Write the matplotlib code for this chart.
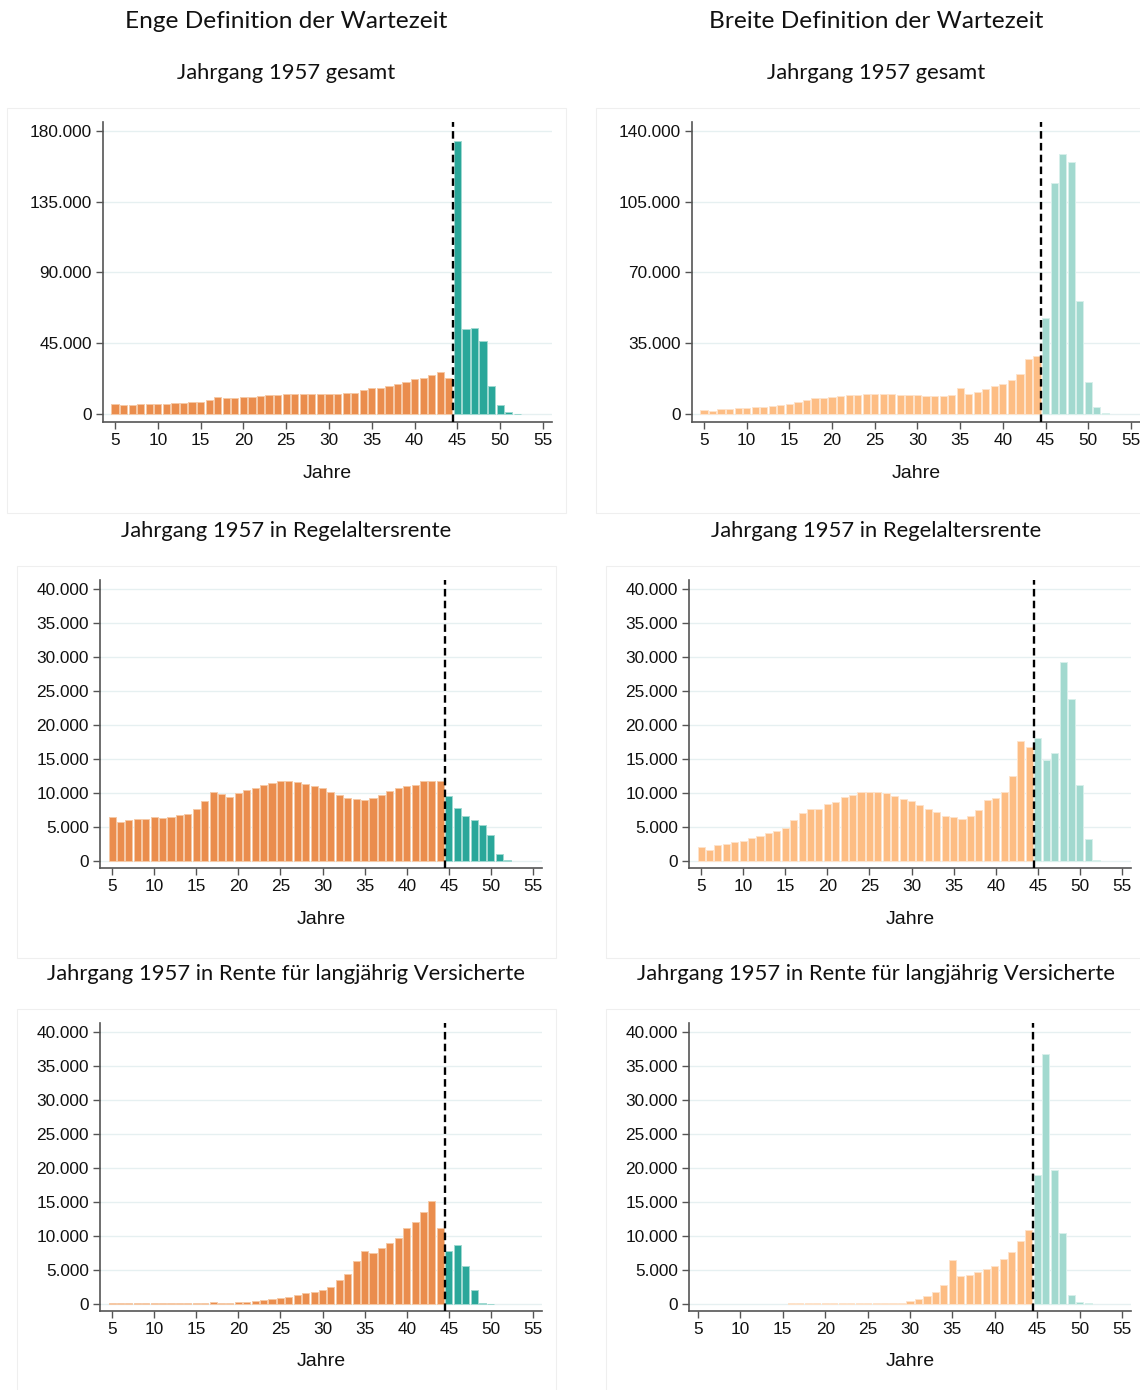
import numpy as np
import matplotlib
matplotlib.use("Agg")
import matplotlib.pyplot as plt
from matplotlib.patches import Rectangle
from matplotlib.ticker import FuncFormatter

W, H = 1140, 1390
DPI = 100

# ---------------- data ----------------
col_titles = ["Enge Definition der Wartezeit", "Breite Definition der Wartezeit"]
row_titles = ["Jahrgang 1957 gesamt", "Jahrgang 1957 in Regelaltersrente",
              "Jahrgang 1957 in Rente für langjährig Versicherte"]
x_label = "Jahre"
threshold = 44.5
x_ticks = [5, 10, 15, 20, 25, 30, 35, 40, 45, 50, 55]

# Panel 1: enge Definition, gesamt
p1_years_below = np.arange(5, 45)
p1_below = [6400, 5700, 6000, 6200, 6200, 6400, 6200, 6800, 7200, 7400,
            7900, 9100, 10600, 10400, 10000, 10600, 11000, 11500, 11900, 12300,
            12700, 13000, 13000, 13000, 13000, 12700, 12700, 13200, 13600, 15500,
            16800, 16800, 17800, 19100, 20400, 22100, 23100, 25000, 26700, 22700]
p1_years_above = np.arange(45, 53)
p1_above = [173700, 54100, 54600, 46300, 17600, 5500, 1100, 200]
p1_yticks = [0, 45000, 90000, 135000, 180000]

# Panel 2: breite Definition, gesamt
p2_years_below = np.arange(5, 45)
p2_below = [1980, 1490, 2310, 2480, 2970, 3140, 3470, 3630, 4130, 4460,
            4790, 5940, 7100, 7760, 7760, 8420, 8750, 9410, 9580, 10070,
            10070, 10070, 10070, 9580, 9250, 9250, 9080, 8750, 8750, 9410,
            12880, 10070, 10730, 12220, 13870, 14860, 16840, 19980, 27080, 28730]
p2_years_above = np.arange(45, 53)
p2_above = [47700, 114400, 128400, 124800, 56000, 16000, 3600, 300]
p2_yticks = [0, 35000, 70000, 105000, 140000]

# Panel 3: enge Definition, Regelaltersrente
p3_years_below = np.arange(5, 45)
p3_below = [6420, 5730, 6030, 6170, 6220, 6420, 6270, 6470, 6710, 6960,
            7600, 8770, 10090, 9850, 9460, 10050, 10390, 10780, 11220, 11520,
            11810, 11760, 11610, 11370, 11070, 10680, 10140, 9650, 9260, 9160,
            9020, 9260, 9700, 10290, 10730, 10980, 11120, 11710, 11710, 11710]
p3_years_above = np.arange(45, 53)
p3_above = [9560, 7740, 6620, 6030, 5340, 3870, 1030, 150]

# Panel 4: breite Definition, Regelaltersrente
p4_years_below = np.arange(5, 45)
p4_below = [2060, 1620, 2300, 2550, 2790, 2990, 3430, 3680, 4170, 4460,
            4850, 5980, 7010, 7600, 7650, 8380, 8730, 9360, 9710, 10100,
            10100, 10150, 10000, 9610, 9120, 8820, 8290, 7700, 7160, 6620,
            6420, 6180, 6620, 7450, 9020, 9310, 10200, 12550, 17700, 16770]
p4_years_above = np.arange(45, 53)
p4_above = [18090, 14900, 15930, 29220, 23830, 11230, 3280, 150]

# Panel 5: enge Definition, langjährig Versicherte
p5_years_below = np.arange(5, 45)
p5_below = [100, 100, 100, 100, 100, 100, 100, 150, 150, 150,
            200, 200, 250, 150, 200, 250, 300, 440, 540, 740,
            930, 1080, 1370, 1570, 1760, 2110, 2500, 3480, 4410, 6320,
            7790, 7450, 8180, 8970, 9750, 11170, 12050, 13570, 15190, 11120]
p5_years_above = np.arange(45, 51)
p5_above = [7840, 8680, 5540, 2110, 100, 50]

# Panel 6: breite Definition, langjährig Versicherte
p6_years_below = np.arange(16, 45)
p6_below = [150, 150, 150, 150, 150, 150, 150, 150, 150, 150,
            150, 150, 150, 200, 400, 780, 1130, 1720, 2840, 6520,
            4070, 4210, 4700, 5100, 5640, 6570, 7700, 9310, 10930]
p6_years_above = np.arange(45, 52)
p6_above = [19010, 36760, 19650, 10390, 1270, 300, 100]

sub_yticks = [0, 5000, 10000, 15000, 20000, 25000, 30000, 35000, 40000]

# ---------------- style ----------------
dark_orange = "#EA8D4D"
dark_orange_edge = "#F6C9A6"
dark_teal = "#2AA79A"
dark_teal_edge = "#9FD9D1"
light_orange = "#FDBD84"
light_orange_edge = "#FEE3CB"
light_teal = "#A2D9CF"
light_teal_edge = "#D8F0EB"
grid_col = "#E6F0F1"
axis_col = "#555555"

plt.rcParams['font.family'] = ['Liberation Sans', 'DejaVu Sans']
title_font = ['Lato', 'DejaVu Sans']

fig = plt.figure(figsize=(W / DPI, H / DPI), dpi=DPI)
fig.patch.set_facecolor("white")


def rect(l, t, r, b):
    return [l / W, 1 - b / H, (r - l) / W, (b - t) / H]


def de_fmt(v, pos):
    return f"{int(round(v)):,}".replace(",", ".")


panels = [
    dict(box=(103, 122, 552, 422), xlim=(3.6, 56.05), ylim=(-5090, 185700),
         yt=p1_yticks, yb=p1_years_below, vb=p1_below, ya=p1_years_above, va=p1_above,
         dark=True, frame=(7, 108, 566, 513)),
    dict(box=(692, 122, 1140, 422), xlim=(3.6, 56.05), ylim=(-3960, 144450),
         yt=p2_yticks, yb=p2_years_below, vb=p2_below, ya=p2_years_above, va=p2_above,
         dark=False, frame=(596, 108, 1150, 513)),
    dict(box=(100, 580, 542, 868), xlim=(3.57, 56.07), ylim=(-1030, 41320),
         yt=sub_yticks, yb=p3_years_below, vb=p3_below, ya=p3_years_above, va=p3_above,
         dark=True, frame=(17, 566, 556, 958)),
    dict(box=(689, 580, 1131, 868), xlim=(3.57, 56.07), ylim=(-1030, 41320),
         yt=sub_yticks, yb=p4_years_below, vb=p4_below, ya=p4_years_above, va=p4_above,
         dark=False, frame=(606, 566, 1150, 958)),
    dict(box=(100, 1023, 542, 1311), xlim=(3.57, 56.07), ylim=(-1030, 41320),
         yt=sub_yticks, yb=p5_years_below, vb=p5_below, ya=p5_years_above, va=p5_above,
         dark=True, frame=(17, 1009, 556, 1400)),
    dict(box=(689, 1023, 1131, 1311), xlim=(3.94, 56.06), ylim=(-1030, 41320),
         yt=sub_yticks, yb=p6_years_below, vb=p6_below, ya=p6_years_above, va=p6_above,
         dark=False, frame=(606, 1009, 1150, 1400)),
]

for p in panels:
    fl, ft, fr, fb = p["frame"]
    fig.patches.append(Rectangle((fl / W, 1 - fb / H), (fr - fl) / W, (fb - ft) / H,
                                 transform=fig.transFigure, fill=False,
                                 edgecolor="#EFEFEF", linewidth=0.8, zorder=0))

    ax = fig.add_axes(rect(*p["box"]))
    ax.set_facecolor("none")
    ax.set_xlim(*p["xlim"])
    ax.set_ylim(*p["ylim"])
    if p["dark"]:
        c1, e1, c2, e2 = dark_orange, dark_orange_edge, dark_teal, dark_teal_edge
    else:
        c1, e1, c2, e2 = light_orange, light_orange_edge, light_teal, light_teal_edge
    ax.bar(p["yb"], p["vb"], width=0.84, color=c1, edgecolor=e1, linewidth=0.7, zorder=2)
    ax.bar(p["ya"], p["va"], width=0.84, color=c2, edgecolor=e2, linewidth=0.7, zorder=2)
    for yv in p["yt"]:
        ax.axhline(yv, color=grid_col, linewidth=1.0, zorder=1)
    ax.axvline(threshold, color="black", linestyle=(0, (3.2, 1.8)), linewidth=1.7, zorder=3)

    ax.set_yticks(p["yt"])
    ax.yaxis.set_major_formatter(FuncFormatter(de_fmt))
    ax.set_xticks(x_ticks)
    for s in ["top", "right"]:
        ax.spines[s].set_visible(False)
    for s in ["left", "bottom"]:
        ax.spines[s].set_color(axis_col)
        ax.spines[s].set_linewidth(1.2)
    ax.tick_params(axis="both", direction="out", length=5, width=1.0, color=axis_col,
                   labelsize=12.4, labelcolor="#111111", pad=3)

    l, t, r, b = p["box"]
    fig.text(((l + r) / 2) / W, 1 - (b + 51) / H, x_label, ha="center", va="center",
             fontsize=14, color="#111111")

# titles
col_centers = [286, 876]
for i, ct in enumerate(col_titles):
    fig.text(col_centers[i] / W, 1 - 21 / H, ct, ha="center", va="center",
             fontsize=17.6, family=title_font, color="#111111")
row_y = [73, 531, 974]
for j, rt in enumerate(row_titles):
    for i in range(2):
        fig.text(col_centers[i] / W, 1 - row_y[j] / H, rt, ha="center", va="center",
                 fontsize=15.8, family=title_font, color="#111111")

fig.savefig("out.png", dpi=DPI, facecolor="white")
